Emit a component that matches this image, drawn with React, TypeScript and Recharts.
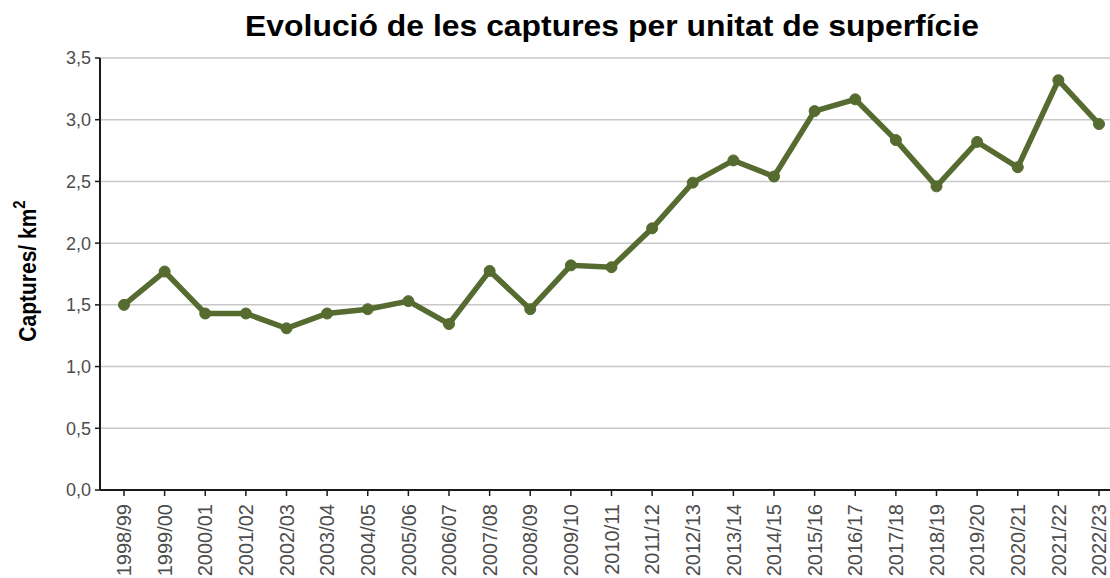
import { CartesianGrid, Line, LineChart, XAxis, YAxis } from "recharts";

const seasons = [
  "1998/99", "1999/00", "2000/01", "2001/02", "2002/03", "2003/04", "2004/05",
  "2005/06", "2006/07", "2007/08", "2008/09", "2009/10", "2010/11", "2011/12",
  "2012/13", "2013/14", "2014/15", "2015/16", "2016/17", "2017/18", "2018/19",
  "2019/20", "2020/21", "2021/22", "2022/23",
];

const capturesPerKm2 = [
  1.5, 1.77, 1.43, 1.43, 1.31, 1.43, 1.465, 1.53, 1.345, 1.775, 1.465, 1.82,
  1.805, 2.12, 2.49, 2.67, 2.54, 3.07, 3.165, 2.835, 2.46, 2.82, 2.615, 3.32,
  2.965,
];

const yTicks = [0, 0.5, 1, 1.5, 2, 2.5, 3, 3.5];

const data = seasons.map((season, i) => ({ season, value: capturesPerKm2[i] }));

const FONT = '"Liberation Sans", Arial, sans-serif';
const GREEN = "#556b2f";

function SeasonTick(props: any) {
  const { x, y, payload } = props;
  return (
    <g transform={`translate(${x},${y + 6})`}>
      <text
        transform="rotate(-90)"
        textAnchor="end"
        dy="0.36em"
        fill="#4d4d4d"
        fontSize={20}
        fontFamily={FONT}
      >
        {payload.value}
      </text>
    </g>
  );
}

function YLabel(props: any) {
  const vb = props.viewBox || { y: 58, height: 432 };
  const cx = 36;
  const cy = vb.y + vb.height / 2 - 3;
  return (
    <text
      transform={`translate(${cx},${cy}) scale(1.15,1) rotate(-90)`}
      textAnchor="middle"
      fill="#000"
      fontSize={21}
      fontWeight={700}
      fontFamily={FONT}
    >
      Captures/ km
      <tspan fontSize={15} dy={-10}>
        2
      </tspan>
    </text>
  );
}

export default function App() {
  return (
    <div style={{ position: "absolute", left: 0, top: 0, width: 1110, height: 578, background: "#fff" }}>
      <div
        style={{
          position: "absolute",
          left: 0,
          width: 1224,
          top: 9,
          textAlign: "center",
          fontFamily: FONT,
          fontWeight: 700,
          fontSize: 29,
          lineHeight: "34px",
          color: "#000",
          transform: "scaleX(1.1)",
          transformOrigin: "612px 0",
        }}
      >
        Evolució de les captures per unitat de superfície
      </div>
      <LineChart
        width={1110}
        height={578}
        data={data}
        margin={{ top: 58, right: 0, bottom: 0, left: 0 }}
        accessibilityLayer={false}
      >
        <CartesianGrid vertical={false} stroke="#c8c8c8" strokeWidth={1.5} />
        <XAxis
          dataKey="season"
          interval={0}
          height={88}
          padding={{ left: 24, right: 11 }}
          tickSize={6}
          axisLine={{ stroke: "#1a1a1a", strokeWidth: 2 }}
          tickLine={{ stroke: "#1a1a1a", strokeWidth: 1.5 }}
          tick={<SeasonTick />}
        />
        <YAxis
          type="number"
          domain={[0, 3.5]}
          ticks={yTicks}
          interval={0}
          width={100}
          tickSize={5}
          tickMargin={4}
          axisLine={{ stroke: "#1a1a1a", strokeWidth: 2 }}
          tickLine={{ stroke: "#1a1a1a", strokeWidth: 1.5 }}
          tick={{ fill: "#4d4d4d", fontSize: 18, fontFamily: FONT }}
          tickFormatter={(v: number) => v.toFixed(1).replace(".", ",")}
          label={<YLabel />}
        />
        <Line
          type="linear"
          dataKey="value"
          stroke={GREEN}
          strokeWidth={5.5}
          dot={{ r: 5.5, fill: GREEN, stroke: GREEN, strokeWidth: 1 }}
          activeDot={false}
          isAnimationActive={false}
        />
      </LineChart>
    </div>
  );
}
